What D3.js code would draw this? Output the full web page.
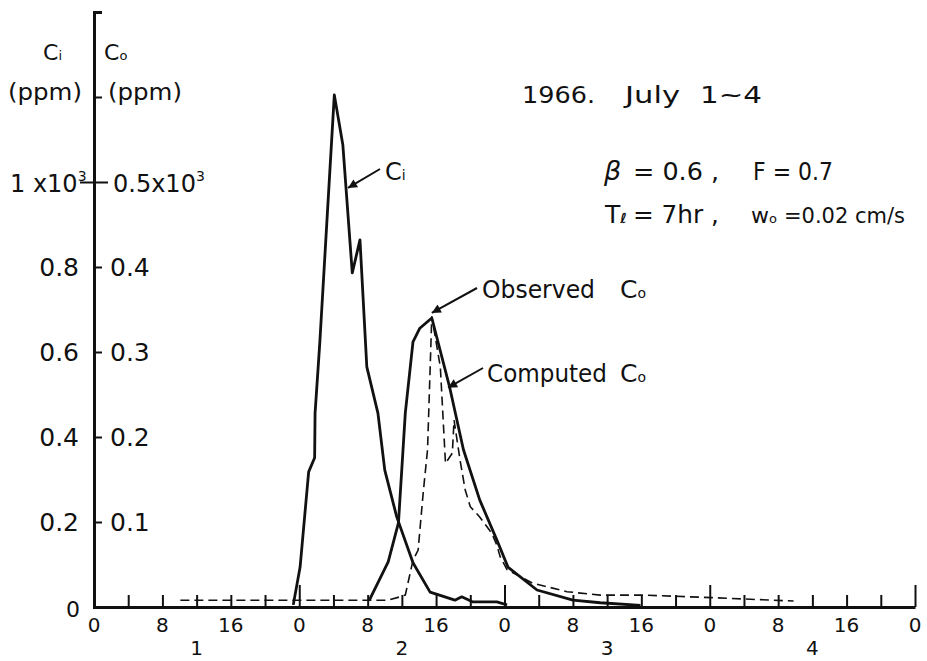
<!DOCTYPE html>
<html lang="en">
  <head>
    <meta charset="utf-8">
    <title>Ci and Co, July 1~4 1966</title>
    <script src="https://d3js.org/d3.v7.min.js"></script>
    <style>
      body {
        margin: 0;
        background: #ffffff;
      }
      text {
        font-family: "DejaVu Sans", sans-serif;
        fill: #111111;
      }
      .axis path, .axis line {
        stroke: #111111;
      }
    </style>
  </head>
  <body>
    <div id="chart"></div>
    <script>
      var w = 927;
      var h = 661;

      // time in hours counted from 0h on July 1
      var ciHours  = [23.3, 24.1, 25.1, 25.8, 25.85, 26.4, 28.1, 29.1, 30.2, 31.1, 31.9, 33.2, 34.0, 35.4, 37.3, 39.3, 42.2, 43.0, 44.3, 47.1, 48.3];
      var ciValues = [5, 94, 318, 351, 456, 621, 1205, 1087, 786, 864, 565, 456, 322, 212, 104, 35, 16, 24, 12, 12, 5];

      var compHours  = [32.2, 34.4, 35.6, 36.4, 37.3, 38.1, 39.5, 41.6, 43.2, 45.1, 47.1, 48.4, 51.8, 56.0, 59.2, 63.9];
      var compValues = [8, 53, 99, 228, 312, 328, 340, 258, 185, 126, 79, 47, 20, 8, 5, 2];

      var obsHours  = [10.1, 34.3, 35.8, 36.4, 37.3, 37.9, 38.5, 39.0, 39.5, 40.5, 41.1, 41.9, 42.1, 42.8, 43.4, 44.0, 45.1, 46.5, 47.1, 47.5, 48.3, 51.3, 55.3, 59.2, 64.2, 72.3, 81.8];
      var obsValues = [8, 8, 12, 14, 55, 67, 135, 185, 342, 282, 169, 181, 220, 173, 138, 118, 106, 87, 73, 59, 44, 28, 18, 14, 14, 11, 7];

      // axis ticks and labels
      var ciTicks = [200, 400, 600, 800, 1000, 1200];
      var ciLabels = ["0.2", "0.4", "0.6", "0.8"];
      var coTicks = [100, 200, 300, 400];
      var coLabels = ["0.1", "0.2", "0.3", "0.4"];
      var minorHours = [4, 8, 12, 16, 20, 24, 28, 32, 36, 40, 44, 48, 52, 56, 60, 64, 68, 72, 76, 80, 84, 88, 92, 96];
      var dayHours = [24, 48, 72, 96];
      var hourTicks = [0, 8, 16, 24, 32, 40, 48, 56, 64, 72, 80, 88, 96];
      var hourLabels = ["0", "8", "16", "0", "8", "16", "0", "8", "16", "0", "8", "16", "0"];
      var dayCenters = [12, 36, 60, 84];
      var dayLabels = ["1", "2", "3", "4"];

      //scales
      var xScale = d3.scaleLinear().domain([0, 96]).range([94, 915]);
      var yCi = d3.scaleLinear().domain([0, 1400]).range([607, 12]);
      var yCo = d3.scaleLinear().domain([0, 700]).range([607, 12]);

      var svg = d3.select("#chart")
                  .append("svg")
                  .attr("width", w)
                  .attr("height", h);

      svg.append("defs").append("marker")
         .attr("id", "head")
         .attr("viewBox", "0 0 10 10")
         .attr("refX", 10)
         .attr("refY", 5)
         .attr("markerUnits", "userSpaceOnUse")
         .attr("markerWidth", 13)
         .attr("markerHeight", 9)
         .attr("orient", "auto")
         .append("path")
         .attr("d", "M0,0L10,5L0,10Z")
         .attr("fill", "#111");

      //x axis, ticks pointing up from the base line
      var xAxis = svg.append("g")
                     .attr("class", "axis")
                     .attr("transform", "translate(0,607)")
                     .call(d3.axisTop(xScale)
                             .tickValues(minorHours)
                             .tickSize(12)
                             .tickSizeOuter(0)
                             .tickFormat(""));
      xAxis.select(".domain").attr("stroke-width", 3);
      xAxis.selectAll(".tick line")
           .attr("stroke-width", 2)
           .attr("y2", function(d){
             return dayHours.indexOf(d) >= 0 ? -22 : -12;
           });

      //y axis, ticks pointing right
      var yAxis = svg.append("g")
                     .attr("class", "axis")
                     .attr("transform", "translate(94,0)")
                     .call(d3.axisRight(yCi)
                             .tickValues(ciTicks)
                             .tickSize(8)
                             .tickSizeOuter(8)
                             .tickFormat(""));
      yAxis.select(".domain").attr("stroke-width", 3).attr("fill", "none");
      yAxis.selectAll(".tick line")
           .attr("stroke-width", 2)
           .attr("x1", function(d){ return d === 1000 ? -14 : 0; })
           .attr("x2", function(d){ return d === 1000 ? 14 : 8; });

      //tick labels
      svg.selectAll("text.ciLab")
         .data(ciLabels)
         .enter()
         .append("text")
         .attr("class", "ciLab")
         .attr("x", 79)
         .attr("y", function(d, i){ return yCi(ciTicks[i]) + 9; })
         .attr("text-anchor", "end")
         .attr("font-size", "25px")
         .text(function(d){ return d; });

      svg.selectAll("text.coLab")
         .data(coLabels)
         .enter()
         .append("text")
         .attr("class", "coLab")
         .attr("x", 110)
         .attr("y", function(d, i){ return yCo(coTicks[i]) + 9; })
         .attr("font-size", "25px")
         .text(function(d){ return d; });

      svg.append("text")
         .attr("x", 80).attr("y", yCi(0) + 10)
         .attr("text-anchor", "end")
         .attr("font-size", "22px")
         .text("0");

      var big1 = svg.append("text")
                    .attr("x", 10).attr("y", yCi(1000) + 10)
                    .attr("font-size", "24px");
      big1.append("tspan").text("1 x10");
      big1.append("tspan").attr("font-size", "14px").attr("dy", -11).text("3");

      var big2 = svg.append("text")
                    .attr("x", 113).attr("y", yCo(500) + 10)
                    .attr("font-size", "24px");
      big2.append("tspan").text("0.5x10");
      big2.append("tspan").attr("font-size", "14px").attr("dy", -11).text("3");

      //axis titles
      var ciTitle = svg.append("text").attr("x", 43).attr("y", 60).attr("font-size", "22px");
      ciTitle.append("tspan").text("C");
      ciTitle.append("tspan").attr("font-size", "13px").text("i");
      svg.append("text").attr("x", 8).attr("y", 100).attr("font-size", "23px")
         .attr("textLength", 74).attr("lengthAdjust", "spacingAndGlyphs").text("(ppm)");

      var coTitle = svg.append("text").attr("x", 104).attr("y", 60).attr("font-size", "22px");
      coTitle.append("tspan").text("C");
      coTitle.append("tspan").attr("font-size", "13px").text("o");
      svg.append("text").attr("x", 108).attr("y", 100).attr("font-size", "23px")
         .attr("textLength", 74).attr("lengthAdjust", "spacingAndGlyphs").text("(ppm)");

      //hour labels
      svg.selectAll("text.hourLab")
         .data(hourTicks)
         .enter()
         .append("text")
         .attr("class", "hourLab")
         .attr("x", function(d){ return xScale(d); })
         .attr("y", 632)
         .attr("text-anchor", "middle")
         .attr("font-size", "20px")
         .text(function(d, i){ return hourLabels[i]; });

      svg.selectAll("text.dayLab")
         .data(dayCenters)
         .enter()
         .append("text")
         .attr("class", "dayLab")
         .attr("x", function(d){ return xScale(d); })
         .attr("y", 655)
         .attr("text-anchor", "middle")
         .attr("font-size", "20px")
         .text(function(d, i){ return dayLabels[i]; });

      //curves
      var ciLine = d3.line()
                     .x(function(d){ return xScale(d[0]); })
                     .y(function(d){ return yCi(d[1]); });
      var coLine = d3.line()
                     .x(function(d){ return xScale(d[0]); })
                     .y(function(d){ return yCo(d[1]); });

      svg.append("path")
         .datum(d3.zip(obsHours, obsValues))
         .attr("d", coLine)
         .attr("fill", "none")
         .attr("stroke", "#111")
         .attr("stroke-width", 1.6)
         .attr("stroke-dasharray", "9,5");

      svg.append("path")
         .datum(d3.zip(ciHours, ciValues))
         .attr("d", ciLine)
         .attr("fill", "none")
         .attr("stroke", "#111")
         .attr("stroke-width", 2.8)
         .attr("stroke-linejoin", "round");

      svg.append("path")
         .datum(d3.zip(compHours, compValues))
         .attr("d", coLine)
         .attr("fill", "none")
         .attr("stroke", "#111")
         .attr("stroke-width", 2.8)
         .attr("stroke-linejoin", "round");

      //arrows to the curves
      function arrow(x0, y0, x1, y1) {
        svg.append("line")
           .attr("x1", x0).attr("y1", y0)
           .attr("x2", x1).attr("y2", y1)
           .attr("stroke", "#111")
           .attr("stroke-width", 2)
           .attr("marker-end", "url(#head)");
      }
      arrow(380, 169, xScale(29.7), yCi(986));
      arrow(477, 288, xScale(39.5), yCo(346));
      arrow(483, 368, xScale(41.4), yCo(258));

      var ciNote = svg.append("text").attr("x", 385).attr("y", 180).attr("font-size", "24px");
      ciNote.append("tspan").text("C");
      ciNote.append("tspan").attr("font-size", "14px").text("i");

      svg.append("text").attr("x", 482).attr("y", 298).attr("font-size", "25px")
         .attr("textLength", 113).attr("lengthAdjust", "spacingAndGlyphs").text("Observed");
      var obsNote = svg.append("text").attr("x", 620).attr("y", 298).attr("font-size", "25px");
      obsNote.append("tspan").text("C");
      obsNote.append("tspan").attr("font-size", "14px").text("o");

      svg.append("text").attr("x", 487).attr("y", 382).attr("font-size", "25px")
         .attr("textLength", 120).attr("lengthAdjust", "spacingAndGlyphs").text("Computed");
      var compNote = svg.append("text").attr("x", 620).attr("y", 382).attr("font-size", "25px");
      compNote.append("tspan").text("C");
      compNote.append("tspan").attr("font-size", "14px").text("o");

      //run information
      function note(str, x, y, size, len) {
        var t = svg.append("text")
                   .attr("x", x).attr("y", y)
                   .attr("font-size", size + "px")
                   .text(str);
        if (len) t.attr("textLength", len).attr("lengthAdjust", "spacingAndGlyphs");
        return t;
      }
      note("1966.", 522, 103, 23, 73);
      note("July", 625, 103, 23, 55);
      note("1~4", 700, 103, 23, 62);

      note("\u03b2", 604, 180, 27).attr("font-style", "italic");
      note("= 0.6 ,", 633, 180, 25, 86);
      note("F = 0.7", 753, 180, 24, 80);

      var tl = note("T", 605, 223, 25);
      tl.append("tspan").attr("font-size", "14px").attr("font-weight", "bold").text("\u2113");
      note("= 7hr ,", 633, 223, 25, 86);
      var wo = note("w", 751, 223, 22);
      wo.append("tspan").attr("font-size", "13px").text("o");
      note("=0.02 cm/s", 784, 223, 22, 121);
    </script>
  </body>
</html>
